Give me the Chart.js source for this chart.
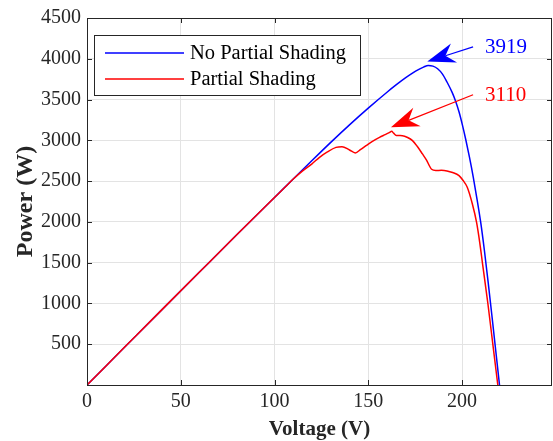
<!DOCTYPE html>
<html>
<head>
<meta charset="utf-8">
<script src="https://cdn.jsdelivr.net/npm/chart.js@4"></script>
<style>
  html, body { margin: 0; padding: 0; background: #fff; overflow: hidden; }
</style>
</head>
<body>
<canvas id="pvChart" width="553" height="441"></canvas>
<script>
// P-V curves
const xTicks = [0, 50, 100, 150, 200];
const yTicks = [0, 500, 1000, 1500, 2000, 2500, 3000, 3500, 4000, 4500];

const noShadeV = [0, 20, 40, 60, 80, 100, 110, 120, 130, 140, 150, 160, 165, 170, 174, 177, 179.5, 182, 184.5, 187, 189.5, 192, 194.8, 196.6, 198.4, 200.2, 202, 204, 206, 208, 210, 212, 214, 216, 218, 220];
const noShadeP = [0, 462, 924, 1385, 1845, 2300, 2525, 2752, 2975, 3190, 3395, 3590, 3682, 3768, 3830, 3870, 3898, 3919, 3910, 3878, 3815, 3715, 3585, 3480, 3350, 3190, 3010, 2790, 2550, 2280, 1990, 1640, 1250, 840, 420, 0];

const shadeV = [0, 20, 40, 60, 80, 100, 105, 110, 115, 120, 124, 128, 132.8, 136, 140, 143.1, 146, 148.8, 152, 156, 159, 161.2, 162.5, 163.5, 165, 168.2, 171, 173.6, 176, 178.9, 181, 183.8, 186, 189, 192, 195, 198.4, 200.5, 202.8, 205.5, 207.8, 209.5, 211, 213.8, 216.5, 219.1];
const shadeP = [0, 462, 924, 1385, 1845, 2300, 2412, 2525, 2625, 2712, 2792, 2855, 2914, 2922, 2882, 2846, 2890, 2935, 2985, 3037, 3070, 3094, 3110, 3088, 3060, 3057, 3035, 2996, 2930, 2833, 2760, 2645, 2630, 2632, 2625, 2605, 2568, 2510, 2425, 2222, 1990, 1740, 1480, 999, 489, 0];

// peak callouts: label, tail and tip of the arrow (in V / W)
const peakLabels = ['3919', '3110'];
const peakTail = [[205.9, 4146], [205.9, 3559]];
const peakTip = [[181.5, 3966], [162.1, 3159]];

const serif = '"Liberation Serif", "Times New Roman", serif';
const axisColor = '#262626';

const toPoints = (xs, ys) => xs.map((v, i) => ({ x: v, y: ys[i] }));

const drawArrow = (ctx, x0, y0, x1, y1, color) => {
  const dx = x1 - x0, dy = y1 - y0;
  const len = Math.hypot(dx, dy);
  const ux = dx / len, uy = dy / len;
  const px = -uy, py = ux;
  const L = 28, W = 10, N = 19;
  ctx.save();
  ctx.strokeStyle = color;
  ctx.fillStyle = color;
  ctx.lineWidth = 1.3;
  ctx.beginPath();
  ctx.moveTo(x0, y0);
  ctx.lineTo(x1 - ux * N, y1 - uy * N);
  ctx.stroke();
  ctx.beginPath();
  ctx.moveTo(x1, y1);
  ctx.lineTo(x1 - ux * L + px * W, y1 - uy * L + py * W);
  ctx.lineTo(x1 - ux * N, y1 - uy * N);
  ctx.lineTo(x1 - ux * L - px * W, y1 - uy * L - py * W);
  ctx.closePath();
  ctx.fill();
  ctx.restore();
};

// box around the axes with inward ticks, like the original figure
const boxPlugin = {
  id: 'boxPlugin',
  afterDatasetsDraw(chart) {
    const { ctx, chartArea: a, scales } = chart;
    ctx.save();
    ctx.strokeStyle = axisColor;
    ctx.lineWidth = 1;
    ctx.strokeRect(a.left + 0.5, a.top + 0.5, a.right - a.left - 1, a.bottom - a.top);
    const t = 5;
    ctx.beginPath();
    xTicks.forEach((v) => {
      const x = Math.round(scales.x.getPixelForValue(v)) + 0.5;
      ctx.moveTo(x, a.bottom); ctx.lineTo(x, a.bottom - t);
      ctx.moveTo(x, a.top); ctx.lineTo(x, a.top + t);
    });
    yTicks.forEach((v) => {
      const y = Math.round(scales.y.getPixelForValue(v)) + 0.5;
      ctx.moveTo(a.left, y); ctx.lineTo(a.left + t, y);
      ctx.moveTo(a.right, y); ctx.lineTo(a.right - t, y);
    });
    ctx.stroke();

    // legend box
    const lx = a.left + 7, ly = a.top + 17, lw = 266, lh = 60;
    ctx.fillStyle = '#fff';
    ctx.fillRect(lx, ly, lw, lh);
    ctx.strokeStyle = axisColor;
    ctx.strokeRect(lx + 0.5, ly + 0.5, lw, lh);
    ctx.font = '20.5px ' + serif;
    ctx.textBaseline = 'middle';
    chart.data.datasets.forEach((ds, i) => {
      const yy = ly + 18 + i * 26;
      ctx.strokeStyle = ds.borderColor;
      ctx.lineWidth = 1.5;
      ctx.beginPath();
      ctx.moveTo(lx + 11, yy); ctx.lineTo(lx + 90, yy);
      ctx.stroke();
      ctx.fillStyle = '#000';
      ctx.fillText(ds.label, lx + 96, yy + 1);
    });

    // peak callouts
    ctx.font = '21px ' + serif;
    peakLabels.forEach((txt, i) => {
      const color = chart.data.datasets[i].borderColor;
      const x0 = scales.x.getPixelForValue(peakTail[i][0]);
      const y0 = scales.y.getPixelForValue(peakTail[i][1]);
      const x1 = scales.x.getPixelForValue(peakTip[i][0]);
      const y1 = scales.y.getPixelForValue(peakTip[i][1]);
      drawArrow(ctx, x0, y0, x1, y1, color);
      ctx.fillStyle = color;
      ctx.textAlign = 'left';
      ctx.fillText(txt, x0 + 12, y0 + 1);
    });
    ctx.restore();
  }
};

new Chart(document.getElementById('pvChart'), {
  type: 'line',
  data: {
    datasets: [
      {
        label: 'No Partial Shading',
        data: toPoints(noShadeV, noShadeP),
        borderColor: '#0000ff',
        borderWidth: 1.5,
        pointRadius: 0,
        cubicInterpolationMode: 'monotone',
        fill: false,
        order: 1,
      },
      {
        label: 'Partial Shading',
        data: toPoints(shadeV, shadeP),
        borderColor: '#ff0000',
        borderWidth: 1.5,
        pointRadius: 0,
        cubicInterpolationMode: 'monotone',
        fill: false,
        order: 0,
      },
    ],
  },
  options: {
    responsive: false,
    animation: false,
    devicePixelRatio: 1,
    layout: { padding: { top: 17, right: 1, left: 0, bottom: 0 } },
    plugins: { legend: { display: false }, tooltip: { enabled: false } },
    scales: {
      x: {
        type: 'linear',
        min: 0,
        max: 248,
        afterBuildTicks: (scale) => { scale.ticks = xTicks.map((v) => ({ value: v })); },
        afterFit: (scale) => { scale.height = 56; },
        ticks: { color: axisColor, padding: 5, font: { family: serif, size: 20 } },
        grid: { color: '#e3e3e3', drawTicks: false },
        border: { display: false },
        title: {
          display: true,
          text: 'Voltage (V)',
          color: axisColor,
          padding: { top: 0, bottom: 1 },
          font: { family: serif, size: 21, weight: 'bold', lineHeight: 1 },
        },
      },
      y: {
        min: 0,
        max: 4500,
        afterBuildTicks: (scale) => { scale.ticks = yTicks.map((v) => ({ value: v })); },
        afterFit: (scale) => { scale.width = 87; },
        ticks: {
          color: axisColor,
          padding: 6,
          font: { family: serif, size: 20 },
          callback: (v) => (v === 0 ? '' : v),
        },
        grid: { color: '#e3e3e3', drawTicks: false },
        border: { display: false },
        title: {
          display: true,
          text: 'Power (W)',
          color: axisColor,
          padding: { top: 14, bottom: 0 },
          font: { family: serif, size: 24, weight: 'bold', lineHeight: 1 },
        },
      },
    },
  },
  plugins: [boxPlugin],
});
</script>
</body>
</html>
